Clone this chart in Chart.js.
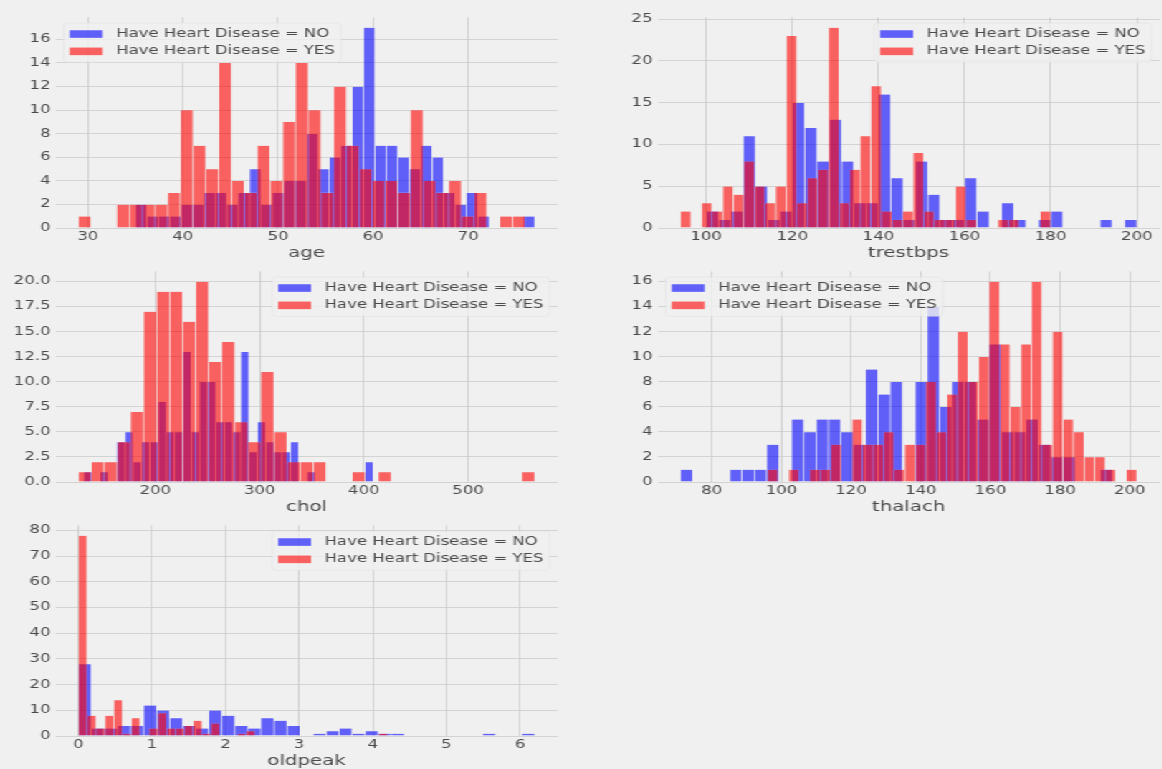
<!DOCTYPE html>
<html>
<head>
<meta charset="utf-8">
<title>Heart disease feature histograms</title>
<script src="https://cdn.jsdelivr.net/npm/chart.js@4.4.1/dist/chart.umd.min.js"></script>
<style>
  html, body { margin: 0; padding: 0; background: #f0f0f0; overflow: hidden; }
  /* the figure is laid out on a narrower stage and widened as a whole */
  #stage { position: absolute; left: 0; top: 0; width: 811px; height: 769px;
           transform-origin: 0 0; transform: scaleX(1.4334); background: #f0f0f0; }
  #stage canvas { position: absolute; }
</style>
</head>
<body>
<div id="stage"></div>
<script>
// ---------- series labels ----------
const LABEL_NO = 'Have Heart Disease = NO';
const LABEL_YES = 'Have Heart Disease = YES';

// ---------- age (35 bins per group) ----------
const ageNoRange = [35, 77];
const ageNoCounts = [2,1,1,1,2, 2,3,3,2,3, 5,2,3,4,4, 8,5,6,7,12, 17,7,7,6,5, 7,6,3,2,3, 1,0,0,0,1];
const ageYesRange = [29, 76];
const ageYesCounts = [1,0,0,2,2, 2,2,3,10,7, 5,14,4,3,7, 4,9,14,10,3, 12,7,5,4,4, 3,10,4,3,4, 1,3,0,1,1];
const ageXTicks = [30, 40, 50, 60, 70];
const ageYTicks = [0, 2, 4, 6, 8, 10, 12, 14, 16];

// ---------- trestbps ----------
const bpsNoRange = [100, 200];
const bpsNoCounts = [2,1,2,11,5, 1,2,15,12,8, 13,8,3,3,16, 6,1,8,4,1, 1,6,2,0,3, 1,0,1,2,0, 0,0,1,0,1];
const bpsYesRange = [94, 180];
const bpsYesCounts = [2,0,3,2,5, 4,8,5,3,5, 23,3,6,7,24, 3,7,11,17,2, 1,2,9,2,1, 1,5,1,0,0, 1,1,0,0,2];
const bpsXTicks = [100, 120, 140, 160, 180, 200];
const bpsYTicks = [0, 5, 10, 15, 20, 25];

// ---------- chol ----------
const cholNoRange = [131, 409];
const cholNoCounts = [1,0,1,0,4, 5,2,4,4,8, 5,5,13,5,10, 10,6,6,5,13, 3,6,4,3,3, 4,0,1,0,0, 0,0,0,0,2];
const cholYesRange = [126, 564];
const cholYesCounts = [1,2,2,4,7, 17,19,19,16,20, 12,14,6,4,11, 5,2,2,2,0, 0,1,0,1,0, 0,0,0,0,0, 0,0,0,0,1];
const cholXTicks = [200, 300, 400, 500];
const cholYTicks = [0, 2.5, 5, 7.5, 10, 12.5, 15, 17.5, 20];

// ---------- thalach ----------
const thalNoRange = [71, 195];
const thalNoCounts = [1,0,0,0,1, 1,1,3,0,5, 4,5,5,4,3, 9,7,8,0,8, 14,6,8,8,5, 11,4,4,5,3, 2,2,0,0,1];
const thalYesRange = [96, 202];
const thalYesCounts = [1,0,1,0,1, 1,3,0,5,3, 3,4,1,3,3, 8,4,7,12,8, 10,16,11,6,11, 16,3,12,5,4, 2,2,1,0,1];
const thalXTicks = [80, 100, 120, 140, 160, 180, 200];
const thalYTicks = [0, 2, 4, 6, 8, 10, 12, 14, 16];

// ---------- oldpeak ----------
const opNoRange = [0, 6.2];
const opNoCounts = [28,3,3,4,4, 12,10,7,4,3, 10,8,4,3,7, 6,4,0,1,2, 3,1,2,1,1, 0,0,0,0,0, 0,1,0,0,1];
const opYesRange = [0, 4.2];
const opYesCounts = [78,8,3,8,14, 1,7,0,3,9, 3,3,4,6,1, 5,0,0,1,2, 0,0,0,0,0, 0,0,0,0,0, 0,0,0,0,1];
const opXTicks = [0, 1, 2, 3, 4, 5, 6];
const opYTicks = [0, 10, 20, 30, 40, 50, 60, 70, 80];

// ---------- layout (stage pixels) ----------
const AX_W = 349.9, AX_H = 211;
const COL_X = [38.7, 458.6];
const ROW_Y = [16.5, 270.5, 524.5];
const Y_AXIS_W = 38.7, PAD_T = 10, PAD_R = 10, X_AXIS_H = 40;
const FONT = '"DejaVu Sans", "Liberation Sans", sans-serif';
const TEXT = '#4a4a4a';

// bar centres of an evenly split histogram range
function binPoints(range, counts) {
  const lo = range[0], hi = range[1], w = (hi - lo) / counts.length;
  return counts.map((c, k) => ({ x: lo + (k + 0.5) * w, y: c }));
}

// legend drawn inside the axes, above the bars
const insideLegend = {
  id: 'insideLegend',
  afterDraw(chart, args, opts) {
    const ctx = chart.ctx, a = chart.chartArea;
    const F = 11.5, padAx = 5.7, padIn = 4.2, hw = 23, hh = 7.6, gap = 9.4, pitch = 17.3;
    ctx.save();
    ctx.font = F + 'px ' + FONT;
    const items = chart.data.datasets.map(d => ({ text: d.label, color: d.backgroundColor }));
    const tw = Math.max(...items.map(i => ctx.measureText(i.text).width));
    const bw = padIn * 2 + hw + gap + tw;
    const bh = padIn * 2 + F + pitch * (items.length - 1) + 2;
    const bx = opts.corner === 'right' ? a.right - padAx - bw : a.left + padAx;
    const by = a.top + padAx;
    ctx.beginPath();
    if (ctx.roundRect) ctx.roundRect(bx, by, bw, bh, 3); else ctx.rect(bx, by, bw, bh);
    ctx.fillStyle = 'rgba(240,240,240,0.8)';
    ctx.fill();
    ctx.lineWidth = 0.6;
    ctx.strokeStyle = 'rgba(220,220,220,0.7)';
    ctx.stroke();
    items.forEach((it, k) => {
      const cy = by + padIn + 1 + F / 2 + k * pitch;
      ctx.fillStyle = it.color;
      ctx.fillRect(bx + padIn, cy - hh / 2, hw, hh);
      ctx.fillStyle = TEXT;
      ctx.textBaseline = 'middle';
      ctx.textAlign = 'left';
      ctx.fillText(it.text, bx + padIn + hw + gap, cy);
    });
    ctx.restore();
  }
};

const stage = document.getElementById('stage');

function makeHist(spec) {
  const cv = document.createElement('canvas');
  const W = Y_AXIS_W + AX_W + PAD_R, H = PAD_T + AX_H + X_AXIS_H;
  cv.width = Math.round(W); cv.height = Math.round(H);
  cv.style.left = (COL_X[spec.col] - Y_AXIS_W) + 'px';
  cv.style.top = (ROW_Y[spec.row] - PAD_T) + 'px';
  stage.appendChild(cv);

  const lo = Math.min(spec.noRange[0], spec.yesRange[0]);
  const hi = Math.max(spec.noRange[1], spec.yesRange[1]);
  const m = (hi - lo) * 0.05;
  const yMax = 1.05 * Math.max(...spec.noCounts, ...spec.yesCounts);
  const setXTicks = s => { s.ticks = spec.xTicks.map(v => ({ value: v })); };
  const barStyle = { borderColor: 'rgba(240,240,240,0.6)', borderWidth: 0.3, borderSkipped: 'start',
                     inflateAmount: 0, barPercentage: 1, categoryPercentage: 1, grouped: false };

  new Chart(cv, {
    type: 'bar',
    data: {
      datasets: [
        Object.assign({ label: LABEL_NO, data: binPoints(spec.noRange, spec.noCounts),
          xAxisID: 'x', yAxisID: 'y', backgroundColor: 'rgba(0,0,255,0.6)', order: 1 }, barStyle),
        Object.assign({ label: LABEL_YES, data: binPoints(spec.yesRange, spec.yesCounts),
          xAxisID: 'x2', yAxisID: 'y', backgroundColor: 'rgba(255,0,0,0.6)', order: 0 }, barStyle)
      ]
    },
    options: {
      responsive: false,
      animation: false,
      devicePixelRatio: 1,
      layout: { padding: { top: PAD_T, right: PAD_R, left: 0, bottom: 0 } },
      plugins: { legend: { display: false }, tooltip: { enabled: false },
                 insideLegend: { corner: spec.legend } },
      scales: {
        x: {
          type: 'linear', position: 'bottom', min: lo - m, max: hi + m, offset: false,
          grid: { color: '#cbcbcb', lineWidth: 0.82, drawTicks: false, offset: false },
          border: { display: false },
          ticks: { autoSkip: false, includeBounds: false, padding: 2, color: TEXT, maxRotation: 0,
                   font: { family: FONT, size: 11.5 }, callback: v => String(v) },
          title: { display: true, text: spec.name, color: TEXT, font: { family: FONT, size: 13.8 },
                   padding: { top: 0, bottom: 6.7 } },
          afterBuildTicks: setXTicks,
          afterFit: s => { s.height = X_AXIS_H; }
        },
        x2: {
          type: 'linear', position: 'bottom', display: false, min: lo - m, max: hi + m, offset: false,
          grid: { offset: false }, ticks: { includeBounds: false }, afterBuildTicks: setXTicks
        },
        y: {
          type: 'linear', position: 'left', min: 0, max: yMax,
          grid: { color: '#cbcbcb', lineWidth: 0.82, drawTicks: false },
          border: { display: false },
          ticks: { autoSkip: false, includeBounds: false, padding: 3.5, color: TEXT,
                   font: { family: FONT, size: 11.5 },
                   callback: v => spec.yDecimals ? Number(v).toFixed(spec.yDecimals) : String(v) },
          afterBuildTicks: s => { s.ticks = spec.yTicks.map(v => ({ value: v })); },
          afterFit: s => { s.width = Y_AXIS_W; }
        }
      }
    },
    plugins: [insideLegend]
  });
}

makeHist({ name: 'age', col: 0, row: 0, legend: 'left',
  noRange: ageNoRange, noCounts: ageNoCounts, yesRange: ageYesRange, yesCounts: ageYesCounts,
  xTicks: ageXTicks, yTicks: ageYTicks });
makeHist({ name: 'trestbps', col: 1, row: 0, legend: 'right',
  noRange: bpsNoRange, noCounts: bpsNoCounts, yesRange: bpsYesRange, yesCounts: bpsYesCounts,
  xTicks: bpsXTicks, yTicks: bpsYTicks });
makeHist({ name: 'chol', col: 0, row: 1, legend: 'right', yDecimals: 1,
  noRange: cholNoRange, noCounts: cholNoCounts, yesRange: cholYesRange, yesCounts: cholYesCounts,
  xTicks: cholXTicks, yTicks: cholYTicks });
makeHist({ name: 'thalach', col: 1, row: 1, legend: 'left',
  noRange: thalNoRange, noCounts: thalNoCounts, yesRange: thalYesRange, yesCounts: thalYesCounts,
  xTicks: thalXTicks, yTicks: thalYTicks });
makeHist({ name: 'oldpeak', col: 0, row: 2, legend: 'right',
  noRange: opNoRange, noCounts: opNoCounts, yesRange: opYesRange, yesCounts: opYesCounts,
  xTicks: opXTicks, yTicks: opYTicks });
</script>
</body>
</html>
